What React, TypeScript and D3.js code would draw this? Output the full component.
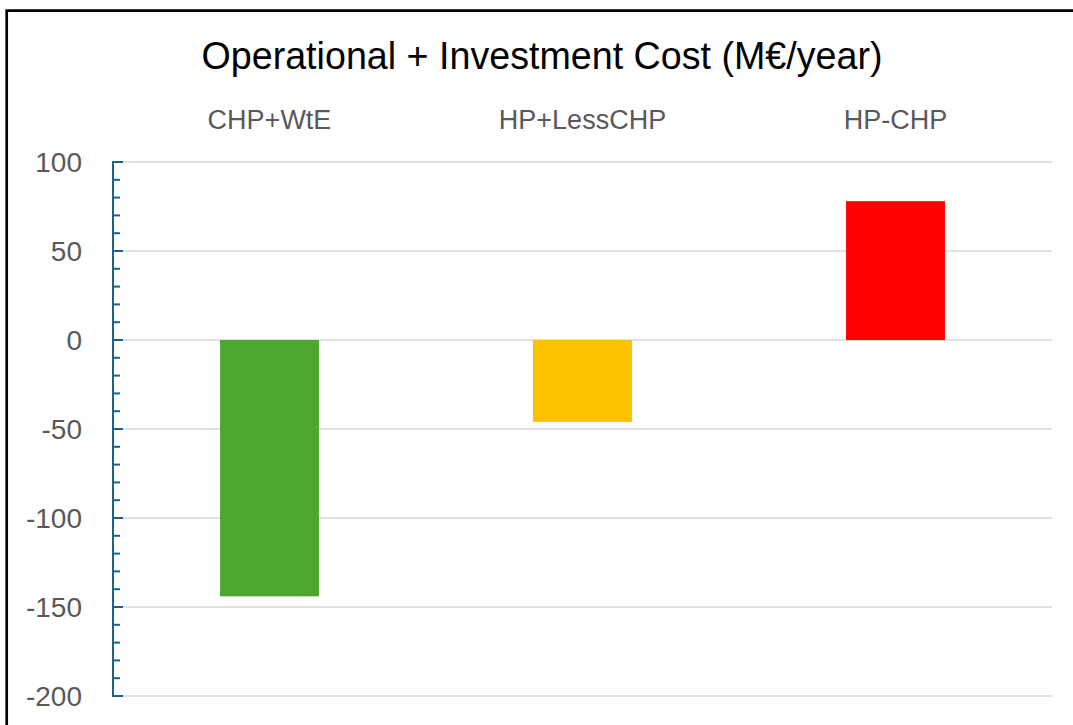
import React from 'react';
import * as d3 from 'd3';

// chart values
const categories = ['CHP+WtE', 'HP+LessCHP', 'HP-CHP'];
const costs = [-144, -46, 78];
const barColors = ['#4ea72e', '#ffc000', '#ff0000'];
const yTicks = [100, 50, 0, -50, -100, -150, -200];
const title = 'Operational + Investment Cost (M€/year)';

const W = 1073;
const H = 725;
const left = 113;
const right = 1052;
const top = 162;
const bottom = 696;

const App = () => {
  const x = d3.scaleBand().domain(categories).range([left, right]).padding(0);
  const y = d3.scaleLinear().domain([-200, 100]).range([bottom, top]);
  const barW = x.bandwidth() * 0.316;
  const minor = d3.range(-200, 101, 10);

  return (
    <svg
      width={W}
      height={H}
      style={{ position: 'absolute', left: 0, top: 0, background: '#fff' }}
      fontFamily="'Liberation Sans', Arial, sans-serif"
    >
      {/* outer frame, cut off at right and bottom */}
      <path d={`M6.7,${H + 5} V10.7 H${W + 5}`} fill="none" stroke="#000" strokeWidth={2.7} />

      <text x={542} y={69} textAnchor="middle" fontSize={38} fill="#000" textLength={681} lengthAdjust="spacingAndGlyphs">
        {title}
      </text>

      {/* gridlines */}
      {yTicks.map(t => (
        <line key={t} x1={left} x2={right} y1={y(t)} y2={y(t)} stroke="#d9d9d9" strokeWidth={1.5} />
      ))}

      {/* bars */}
      {categories.map((c, i) => {
        const cx = (x(c) as number) + x.bandwidth() / 2;
        const v = costs[i];
        return (
          <rect
            key={c}
            x={cx - barW / 2}
            y={Math.min(y(v), y(0))}
            width={barW}
            height={Math.abs(y(v) - y(0))}
            fill={barColors[i]}
          />
        );
      })}

      {/* category labels on top */}
      {categories.map(c => (
        <text key={c} x={(x(c) as number) + x.bandwidth() / 2} y={129} textAnchor="middle" fontSize={27} fill="#595959">
          {c}
        </text>
      ))}

      {/* y axis */}
      <line x1={left} x2={left} y1={top - 1} y2={bottom + 1} stroke="#1f6185" strokeWidth={2} />
      {minor.map(t => (
        <line
          key={t}
          x1={left}
          x2={t % 50 === 0 ? left + 10 : left + 7}
          y1={y(t)}
          y2={y(t)}
          stroke="#1f6185"
          strokeWidth={2}
        />
      ))}
      {yTicks.map(t => (
        <text key={t} x={82} y={y(t)} dy="0.36em" textAnchor="end" fontSize={28} fill="#595959">
          {t}
        </text>
      ))}
    </svg>
  );
};

export default App;
